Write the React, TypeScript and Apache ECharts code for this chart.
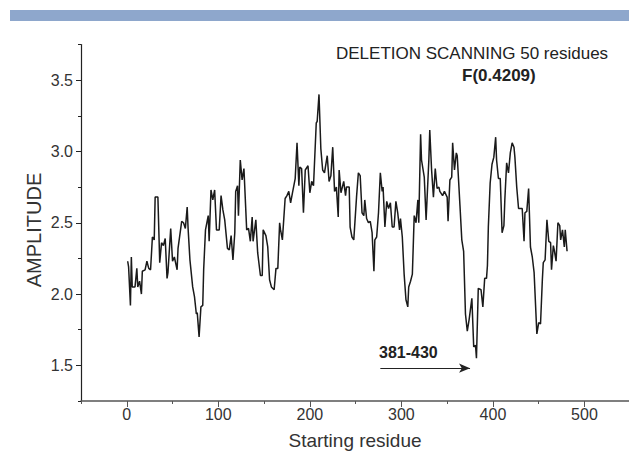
import React, { useEffect, useRef } from "react";
import * as echarts from "echarts";

const residues = [
  1, 2, 4, 5, 6, 9, 11, 12, 14, 16, 17, 20, 22, 24, 26, 28, 30, 31, 34, 36, 38, 40, 42, 44, 45, 48, 50, 52, 55, 56,
  60, 62, 64, 66, 67, 69, 72, 74, 76, 77, 79, 81, 83, 84, 86, 89, 90, 92, 94, 96, 98, 101, 103, 105, 107, 110, 112,
  114, 116, 118, 119, 121, 122, 124, 126, 128, 131, 133, 135, 137, 138, 141, 143, 146, 148, 149, 152, 154, 156, 158,
  161, 163, 165, 167, 168, 170, 173, 175, 177, 179, 181, 184, 186, 188, 189, 191, 193, 195, 198, 200, 202, 204, 207,
  208, 210, 212, 214, 216, 219, 221, 223, 225, 227, 229, 231, 232, 234, 237, 239, 240, 243, 244, 246, 248, 251, 253,
  255, 257, 259, 260, 262, 264, 266, 268, 270, 271, 273, 275, 277, 279, 280, 282, 284, 286, 288, 290, 292, 294, 296,
  298, 299, 301, 303, 305, 307, 308, 310, 312, 314, 316, 318, 319, 321, 322, 325, 327, 330, 331, 333, 335, 337, 339,
  341, 342, 345, 347, 350, 351, 353, 355, 356, 358, 360, 361, 364, 366, 368, 370, 372, 374, 377, 379, 381, 382, 384,
  387, 389, 391, 393, 394, 395, 397, 399, 401, 403, 404, 406, 408, 410, 412, 413, 415, 417, 419, 421, 423, 424, 426,
  428, 432, 434, 435, 437, 439, 441, 443, 445, 448, 450, 452, 454, 455, 457, 459, 461, 463, 464, 466, 467, 469, 471,
  473, 474, 476, 478, 479, 481,
];

const amplitude = [
  2.23, 2.19, 1.92, 2.26, 2.05, 2.05, 2.18, 2.05, 2.09, 2.0, 2.16, 2.17, 2.23, 2.18, 2.17, 2.4, 2.38, 2.68, 2.68, 2.22,
  2.36, 2.34, 2.39, 2.11, 2.15, 2.46, 2.23, 2.26, 2.17, 2.32, 2.51, 2.5, 2.46, 2.61, 2.46, 2.24, 2.05, 1.98, 1.86, 1.87,
  1.7, 1.91, 1.92, 2.17, 2.45, 2.55, 2.37, 2.73, 2.66, 2.73, 2.45, 2.45, 2.69, 2.59, 2.52, 2.32, 2.31, 2.41, 2.24, 2.43,
  2.72, 2.76, 2.55, 2.94, 2.8, 2.88, 2.45, 2.46, 2.37, 2.54, 2.37, 2.52, 2.29, 2.13, 2.13, 2.45, 2.41, 2.33, 2.1, 2.05,
  2.03, 2.18, 2.18, 2.5, 2.45, 2.38, 2.67, 2.69, 2.72, 2.64, 2.71, 2.81, 3.06, 2.76, 2.89, 2.88, 2.57, 2.87, 2.9, 2.71,
  2.79, 2.76, 3.2, 3.21, 3.4, 3.02, 2.87, 2.85, 2.97, 2.79, 2.83, 3.03, 2.72, 2.75, 2.54, 2.87, 2.71, 2.79, 2.69, 2.75,
  2.75, 2.47, 2.4, 2.38, 2.68, 2.85, 2.83, 2.57, 2.55, 2.66, 2.53, 2.5, 2.51, 2.43, 2.16, 2.38, 2.4, 2.57, 2.85, 2.72,
  2.75, 2.47, 2.65, 2.6, 2.64, 2.47, 2.47, 2.65, 2.57, 2.45, 2.53, 2.4, 2.14, 1.96, 1.91, 2.05, 2.09, 2.14, 2.55, 2.5,
  2.66, 2.5, 3.12, 2.94, 2.82, 2.52, 2.94, 3.15, 2.87, 2.68, 2.88, 2.74, 2.75, 2.72, 2.69, 2.72, 2.68, 2.51, 2.8, 2.82,
  3.06, 2.87, 2.99, 2.97, 2.62, 2.38, 2.3, 1.86, 1.74, 1.82, 1.97, 1.63, 1.64, 1.55, 2.04, 2.03, 1.91, 2.11, 2.11, 2.2,
  2.47, 2.78, 2.91, 2.96, 3.1, 2.94, 2.81, 2.81, 2.43, 2.48, 2.66, 2.92, 2.85, 2.99, 3.06, 3.03, 2.96, 2.75, 2.6, 2.6,
  2.37, 2.57, 2.58, 2.74, 2.33, 2.26, 2.15, 1.72, 1.8, 1.79, 2.1, 2.22, 2.24, 2.52, 2.37, 2.36, 2.17, 2.34, 2.31, 2.23,
  2.5, 2.48, 2.38, 2.45, 2.33, 2.45, 2.3,
];

// tick positions (every 50 on x, every 0.25 on y); labels shown on every other one
const xTickValues = ["-50", "0", "50", "100", "150", "200", "250", "300", "350", "400", "450", "500", "550", "600"];
const yTickValues = ["1.25", "1.5", "1.75", "2.0", "2.25", "2.5", "2.75", "3.0", "3.25", "3.5", "3.75"];

const titleText = "DELETION SCANNING 50 residues";
const subtitleText = "F(0.4209)";
const xAxisTitle = "Starting residue";
const yAxisTitle = "AMPLITUDE";
const arrowLabel = "381-430";
const arrowStart = 277;
const arrowEnd = 375;
const arrowLevel = 1.48;

const FONT = '"Liberation Sans", Arial, Helvetica, sans-serif';

export default function App() {
  const ref = useRef<HTMLDivElement>(null);

  useEffect(() => {
    if (!ref.current) return;
    const chart = echarts.init(ref.current, null, { renderer: "svg" });
    const lineData = residues.map((r, i) => [r, amplitude[i]]);

    chart.setOption({
      animation: false,
      backgroundColor: "#ffffff",
      grid: {
        left: 81,
        top: 44.5,
        width: 595,
        height: 356.5,
        containLabel: false,
        outerBoundsMode: "none",
      },
      xAxis: [
        {
          type: "value",
          min: -50,
          max: 600,
          interval: 50,
          axisLine: { show: true, onZero: false, lineStyle: { color: "#555555", width: 1.5 } },
          axisTick: { show: true, length: 3, lineStyle: { color: "#555555", width: 1 } },
          axisLabel: { show: false },
          splitLine: { show: false },
        },
        {
          type: "category",
          data: xTickValues,
          boundaryGap: false,
          position: "bottom",
          axisLine: { show: false, onZero: false },
          axisTick: {
            show: true,
            length: 6,
            interval: (i: number) => i % 2 === 1,
            lineStyle: { color: "#555555", width: 1 },
          },
          axisLabel: {
            interval: (i: number, v: string) => i % 2 === 1 && Number(v) <= 500,
            fontSize: 16,
            fontFamily: FONT,
            color: "#333333",
            margin: 5,
          },
          splitLine: { show: false },
        },
      ],
      yAxis: [
        {
          type: "value",
          min: 1.25,
          max: 3.75,
          interval: 0.25,
          axisLine: { show: true, onZero: false, lineStyle: { color: "#222222", width: 1.2 } },
          axisTick: { show: true, length: 3, lineStyle: { color: "#222222", width: 1 } },
          axisLabel: { show: false },
          splitLine: { show: false },
        },
        {
          type: "category",
          data: yTickValues,
          boundaryGap: false,
          position: "left",
          axisLine: { show: false, onZero: false },
          axisTick: {
            show: true,
            length: 5,
            interval: (i: number) => i % 2 === 1,
            lineStyle: { color: "#222222", width: 1 },
          },
          axisLabel: {
            interval: (i: number) => i % 2 === 1,
            fontSize: 16,
            fontFamily: FONT,
            color: "#333333",
            margin: 8,
          },
          splitLine: { show: false },
        },
      ],
      series: [
        {
          type: "line",
          xAxisIndex: 0,
          yAxisIndex: 0,
          data: lineData,
          showSymbol: false,
          symbol: "none",
          lineStyle: { color: "#1a1a1a", width: 1.5 },
          silent: true,
          markLine: {
            silent: true,
            symbol: ["none", "arrow"],
            symbolSize: [7, 11],
            label: { show: false },
            lineStyle: { color: "#222222", width: 1.2, type: "solid" },
            data: [[{ coord: [arrowStart, arrowLevel] }, { coord: [arrowEnd, arrowLevel] }]],
          },
        },
      ],
      graphic: [
        { type: "rect", shape: { x: 10, y: 10, width: 619, height: 11 }, style: { fill: "#8ea7cc" } },
        {
          type: "text",
          x: 336,
          y: 53,
          style: { text: titleText, fontSize: 17, fontFamily: FONT, fill: "#222222", align: "left", verticalAlign: "middle" },
        },
        {
          type: "text",
          x: 462,
          y: 75,
          style: { text: subtitleText, fontSize: 17, fontWeight: "bold", fontFamily: FONT, fill: "#222222", align: "left", verticalAlign: "middle" },
        },
        {
          type: "text",
          x: 355,
          y: 440,
          style: { text: xAxisTitle, fontSize: 19, fontFamily: FONT, fill: "#333333", align: "center", verticalAlign: "middle" },
        },
        {
          type: "text",
          x: 34,
          y: 230,
          rotation: Math.PI / 2,
          style: { text: yAxisTitle, fontSize: 20, fontFamily: FONT, fill: "#333333", align: "center", verticalAlign: "middle" },
        },
        {
          type: "text",
          x: 379,
          y: 352,
          style: { text: arrowLabel, fontSize: 16, fontWeight: "bold", fontFamily: FONT, fill: "#222222", align: "left", verticalAlign: "middle" },
        },
      ],
    });

    return () => chart.dispose();
  }, []);

  return <div ref={ref} style={{ position: "absolute", left: 0, top: 0, width: 629, height: 457 }} />;
}
